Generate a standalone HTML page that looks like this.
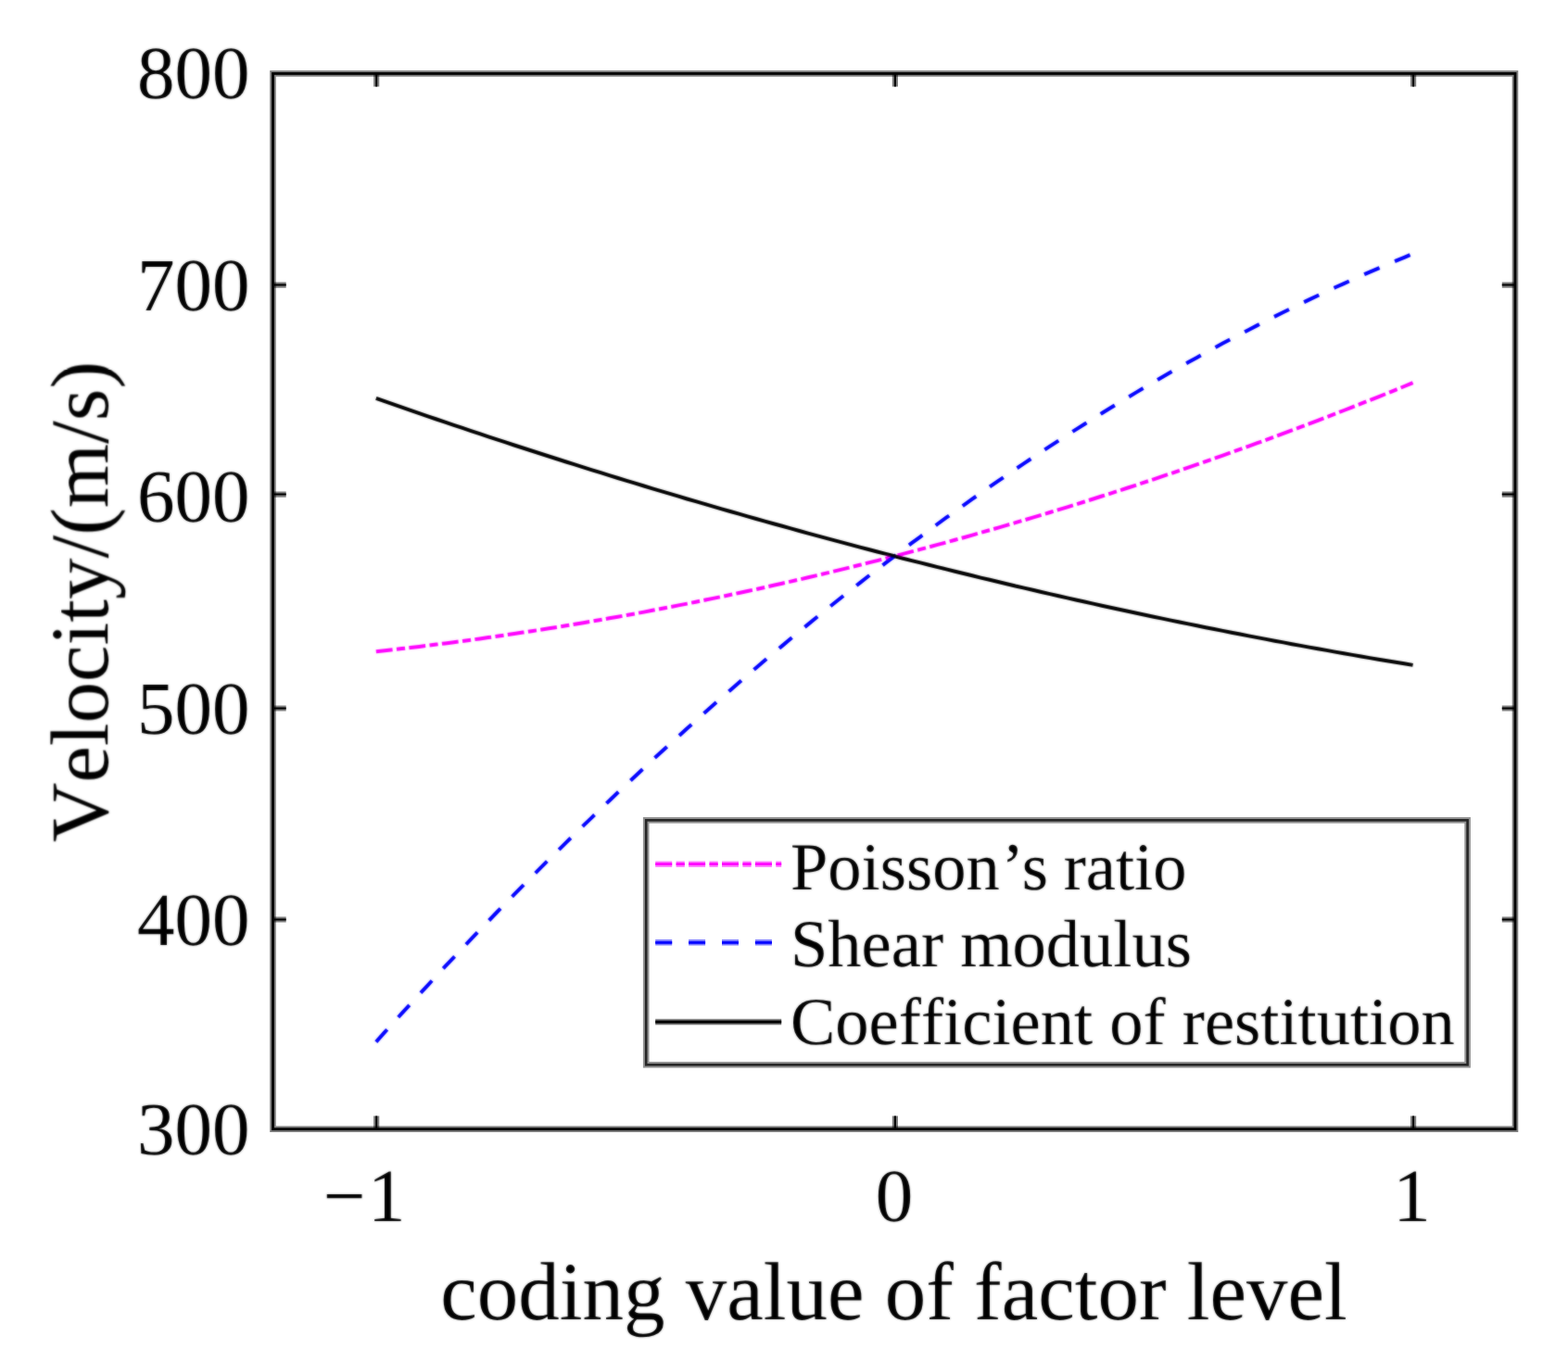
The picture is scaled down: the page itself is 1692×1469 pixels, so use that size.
<!DOCTYPE html>
<html lang="en">
<head>
<meta charset="utf-8">
<title>Velocity versus coding value of factor level</title>
<style>
html, body { margin: 0; padding: 0; background: #ffffff; }
body { width: 1692px; height: 1469px; overflow: hidden; }
svg { display: block; }
text { font-family: "Liberation Serif", serif; fill: #000; text-rendering: geometricPrecision; font-kerning: none; font-variant-ligatures: none; font-feature-settings: "kern" 0, "liga" 0, "clig" 0; }
.soft { stroke-opacity: 0.5; }
</style>
</head>
<body>
<svg width="1692" height="1469" viewBox="0 0 1692 1469" role="img" aria-label="Line chart of velocity against coding value of factor level">
<defs><filter id="soft" filterUnits="userSpaceOnUse" x="0" y="0" width="1692" height="1469"><feGaussianBlur in="SourceGraphic" stdDeviation="0.8" result="b"/><feComposite in="SourceGraphic" in2="b" operator="arithmetic" k1="0" k2="0.5" k3="0.5" k4="0"/></filter></defs>
<rect x="0" y="0" width="1692" height="1469" fill="#ffffff"/>
<g id="curves" filter="url(#soft)" fill="none" stroke-width="4.00">
<path id="poisson" d="M405.8,703.3 L415.1,702.3 L424.4,701.2 L433.7,700.1 L443.0,699.0 L452.4,697.9 L461.7,696.8 L471.0,695.6 L480.3,694.4 L489.7,693.2 L499.0,692.0 L508.3,690.7 L517.6,689.4 L527.0,688.1 L536.3,686.8 L545.6,685.4 L554.9,684.0 L564.3,682.6 L573.6,681.2 L582.9,679.8 L592.2,678.3 L601.6,676.8 L610.9,675.3 L620.2,673.7 L629.5,672.2 L638.9,670.6 L648.2,669.0 L657.5,667.3 L666.8,665.7 L676.2,664.0 L685.5,662.3 L694.8,660.6 L704.1,658.8 L713.4,657.0 L722.8,655.2 L732.1,653.4 L741.4,651.6 L750.7,649.7 L760.1,647.8 L769.4,645.9 L778.7,644.0 L788.0,642.0 L797.4,640.0 L806.7,638.0 L816.0,636.0 L825.3,633.9 L834.7,631.8 L844.0,629.7 L853.3,627.6 L862.6,625.5 L872.0,623.3 L881.3,621.1 L890.6,618.9 L899.9,616.6 L909.3,614.4 L918.6,612.1 L927.9,609.8 L937.2,607.4 L946.6,605.1 L955.9,602.7 L965.2,600.3 L974.5,597.9 L983.8,595.4 L993.2,592.9 L1002.5,590.4 L1011.8,587.9 L1021.1,585.4 L1030.5,582.8 L1039.8,580.2 L1049.1,577.6 L1058.4,574.9 L1067.8,572.3 L1077.1,569.6 L1086.4,566.9 L1095.7,564.2 L1105.1,561.4 L1114.4,558.6 L1123.7,555.8 L1133.0,553.0 L1142.4,550.1 L1151.7,547.3 L1161.0,544.4 L1170.3,541.5 L1179.7,538.5 L1189.0,535.5 L1198.3,532.6 L1207.6,529.5 L1217.0,526.5 L1226.3,523.5 L1235.6,520.4 L1244.9,517.3 L1254.2,514.1 L1263.6,511.0 L1272.9,507.8 L1282.2,504.6 L1291.5,501.4 L1300.9,498.1 L1310.2,494.9 L1319.5,491.6 L1328.8,488.3 L1338.2,484.9 L1347.5,481.6 L1356.8,478.2 L1366.1,474.8 L1375.5,471.3 L1384.8,467.9 L1394.1,464.4 L1403.4,460.9 L1412.8,457.4 L1422.1,453.8 L1431.4,450.2 L1440.7,446.6 L1450.1,443.0 L1459.4,439.4 L1468.7,435.7 L1478.0,432.0 L1487.4,428.3 L1496.7,424.6 L1506.0,420.8 L1515.3,417.0 L1524.6,413.2" stroke="#ff00ff" stroke-dasharray="17.9 4.4 9.2 4.3"/>
<path id="shear" d="M405.8,1124.6 L415.1,1114.2 L424.4,1103.9 L433.7,1093.7 L443.0,1083.5 L452.4,1073.3 L461.7,1063.3 L471.0,1053.2 L480.3,1043.2 L489.7,1033.3 L499.0,1023.5 L508.3,1013.6 L517.6,1003.9 L527.0,994.2 L536.3,984.5 L545.6,975.0 L554.9,965.4 L564.3,955.9 L573.6,946.5 L582.9,937.1 L592.2,927.8 L601.6,918.6 L610.9,909.4 L620.2,900.2 L629.5,891.1 L638.9,882.1 L648.2,873.1 L657.5,864.2 L666.8,855.3 L676.2,846.5 L685.5,837.7 L694.8,829.0 L704.1,820.3 L713.4,811.7 L722.8,803.2 L732.1,794.7 L741.4,786.2 L750.7,777.9 L760.1,769.5 L769.4,761.3 L778.7,753.1 L788.0,744.9 L797.4,736.8 L806.7,728.7 L816.0,720.7 L825.3,712.8 L834.7,704.9 L844.0,697.1 L853.3,689.3 L862.6,681.6 L872.0,673.9 L881.3,666.3 L890.6,658.8 L899.9,651.3 L909.3,643.8 L918.6,636.4 L927.9,629.1 L937.2,621.8 L946.6,614.6 L955.9,607.4 L965.2,600.3 L974.5,593.2 L983.8,586.2 L993.2,579.3 L1002.5,572.4 L1011.8,565.5 L1021.1,558.7 L1030.5,552.0 L1039.8,545.3 L1049.1,538.7 L1058.4,532.2 L1067.8,525.6 L1077.1,519.2 L1086.4,512.8 L1095.7,506.4 L1105.1,500.2 L1114.4,493.9 L1123.7,487.7 L1133.0,481.6 L1142.4,475.5 L1151.7,469.5 L1161.0,463.6 L1170.3,457.7 L1179.7,451.8 L1189.0,446.0 L1198.3,440.3 L1207.6,434.6 L1217.0,429.0 L1226.3,423.4 L1235.6,417.9 L1244.9,412.4 L1254.2,407.0 L1263.6,401.6 L1272.9,396.3 L1282.2,391.1 L1291.5,385.9 L1300.9,380.7 L1310.2,375.7 L1319.5,370.6 L1328.8,365.7 L1338.2,360.8 L1347.5,355.9 L1356.8,351.1 L1366.1,346.3 L1375.5,341.6 L1384.8,337.0 L1394.1,332.4 L1403.4,327.9 L1412.8,323.4 L1422.1,319.0 L1431.4,314.6 L1440.7,310.3 L1450.1,306.1 L1459.4,301.9 L1468.7,297.7 L1478.0,293.6 L1487.4,289.6 L1496.7,285.6 L1506.0,281.7 L1515.3,277.8 L1524.6,274.0" stroke="#0000ff" stroke-dasharray="17.9 17.9"/>
<path id="restitution" d="M405.8,429.8 L415.1,433.1 L424.4,436.4 L433.7,439.6 L443.0,442.9 L452.4,446.1 L461.7,449.3 L471.0,452.5 L480.3,455.6 L489.7,458.8 L499.0,461.9 L508.3,465.1 L517.6,468.2 L527.0,471.3 L536.3,474.3 L545.6,477.4 L554.9,480.5 L564.3,483.5 L573.6,486.5 L582.9,489.5 L592.2,492.5 L601.6,495.5 L610.9,498.5 L620.2,501.4 L629.5,504.4 L638.9,507.3 L648.2,510.2 L657.5,513.1 L666.8,516.0 L676.2,518.8 L685.5,521.7 L694.8,524.5 L704.1,527.3 L713.4,530.1 L722.8,532.9 L732.1,535.7 L741.4,538.5 L750.7,541.2 L760.1,543.9 L769.4,546.6 L778.7,549.3 L788.0,552.0 L797.4,554.7 L806.7,557.4 L816.0,560.0 L825.3,562.6 L834.7,565.2 L844.0,567.8 L853.3,570.4 L862.6,573.0 L872.0,575.6 L881.3,578.1 L890.6,580.6 L899.9,583.1 L909.3,585.6 L918.6,588.1 L927.9,590.6 L937.2,593.0 L946.6,595.5 L955.9,597.9 L965.2,600.3 L974.5,602.7 L983.8,605.1 L993.2,607.4 L1002.5,609.8 L1011.8,612.1 L1021.1,614.4 L1030.5,616.7 L1039.8,619.0 L1049.1,621.3 L1058.4,623.6 L1067.8,625.8 L1077.1,628.0 L1086.4,630.2 L1095.7,632.5 L1105.1,634.6 L1114.4,636.8 L1123.7,639.0 L1133.0,641.1 L1142.4,643.2 L1151.7,645.4 L1161.0,647.5 L1170.3,649.5 L1179.7,651.6 L1189.0,653.7 L1198.3,655.7 L1207.6,657.7 L1217.0,659.7 L1226.3,661.7 L1235.6,663.7 L1244.9,665.7 L1254.2,667.6 L1263.6,669.6 L1272.9,671.5 L1282.2,673.4 L1291.5,675.3 L1300.9,677.2 L1310.2,679.0 L1319.5,680.9 L1328.8,682.7 L1338.2,684.5 L1347.5,686.4 L1356.8,688.1 L1366.1,689.9 L1375.5,691.7 L1384.8,693.4 L1394.1,695.2 L1403.4,696.9 L1412.8,698.6 L1422.1,700.3 L1431.4,701.9 L1440.7,703.6 L1450.1,705.2 L1459.4,706.9 L1468.7,708.5 L1478.0,710.1 L1487.4,711.7 L1496.7,713.2 L1506.0,714.8 L1515.3,716.3 L1524.6,717.9" stroke="#000000"/>
</g>
<g id="axes" fill="none" stroke="#000000">
<path class="soft" d="M406.20,1218.70 V1204.50 M406.20,79.40 V93.60 M965.90,1218.70 V1204.50 M965.90,79.40 V93.60 M1525.10,1218.70 V1204.50 M1525.10,79.40 V93.60 M294.50,307.60 H308.70 M1635.00,307.60 H1620.80 M294.50,533.60 H308.70 M1635.00,533.60 H1620.80 M294.50,764.50 H308.70 M1635.00,764.50 H1620.80 M294.50,992.50 H308.70 M1635.00,992.50 H1620.80" stroke-width="6.20"/>
<path d="M406.20,1218.70 V1204.50 M406.20,79.40 V93.60 M965.90,1218.70 V1204.50 M965.90,79.40 V93.60 M1525.10,1218.70 V1204.50 M1525.10,79.40 V93.60 M294.50,307.60 H308.70 M1635.00,307.60 H1620.80 M294.50,533.60 H308.70 M1635.00,533.60 H1620.80 M294.50,764.50 H308.70 M1635.00,764.50 H1620.80 M294.50,992.50 H308.70 M1635.00,992.50 H1620.80" stroke-width="2.00"/>
<rect class="soft" x="294.50" y="79.40" width="1340.50" height="1139.30" stroke-width="6.60"/>
<rect x="294.50" y="79.40" width="1340.50" height="1139.30" stroke-width="2.80"/>
</g>
<g id="legend">
<g id="legend-frame">
<rect x="697.20" y="885.30" width="886.40" height="264.00" fill="#ffffff" stroke="none"/>
<rect class="soft" x="697.20" y="885.30" width="886.40" height="264.00" fill="none" stroke="#262626" stroke-width="6.60"/>
<rect x="697.20" y="885.30" width="886.40" height="264.00" fill="none" stroke="#262626" stroke-width="2.60"/>
<g class="soft" fill="none" stroke-width="6.4">
<path d="M707.2,932.70 H843.2" stroke="#ff00ff" stroke-dasharray="18 4.4 9.2 4.3"/>
<path d="M707.2,1017.30 H843.2" stroke="#0000ff" stroke-dasharray="18 17.9"/>
<path d="M707.2,1103.00 H843.2" stroke="#000000"/>
</g>
<g fill="none" stroke-width="2.8">
<path d="M707.2,932.70 H843.2" stroke="#ff00ff" stroke-dasharray="18 4.4 9.2 4.3"/>
<path d="M707.2,1017.30 H843.2" stroke="#0000ff" stroke-dasharray="18 17.9"/>
<path d="M707.2,1103.00 H843.2" stroke="#000000"/>
</g>
</g>
<g id="legend-labels" filter="url(#soft)" font-size="72.5">
<text x="853" y="959.8">Poisson<tspan dx="2">’</tspan><tspan dx="-2">s</tspan><tspan dx="-1.5"> ratio</tspan></text>
<text x="853" y="1042.7">Shear modulus</text>
<text x="853" y="1127.2">Coefficient of restitution</text>
</g>
</g>
<g id="y-tick-labels" filter="url(#soft)" font-size="81" text-anchor="end">
<text x="269.4" y="105.70">800</text>
<text x="269.4" y="335.20">700</text>
<text x="269.4" y="562.50">600</text>
<text x="269.4" y="791.50">500</text>
<text x="269.4" y="1019.80">400</text>
<text x="269.4" y="1246.00">300</text>
</g>
<g id="x-tick-labels" filter="url(#soft)" font-size="81">
<text x="348.8" y="1318.3">−<tspan dx="2.5">1</tspan></text>
<text x="964.9" y="1318.3" text-anchor="middle">0</text>
<text x="1523.4" y="1318.3" text-anchor="middle">1</text>
</g>
<g id="axis-labels" filter="url(#soft)" font-size="89" text-anchor="middle">
<text x="964.5" y="1423.5">coding value of factor level</text>
<text transform="translate(116.2,649.5) rotate(-90)">Velocity/(m/s)</text>
</g>
</svg>
</body>
</html>
